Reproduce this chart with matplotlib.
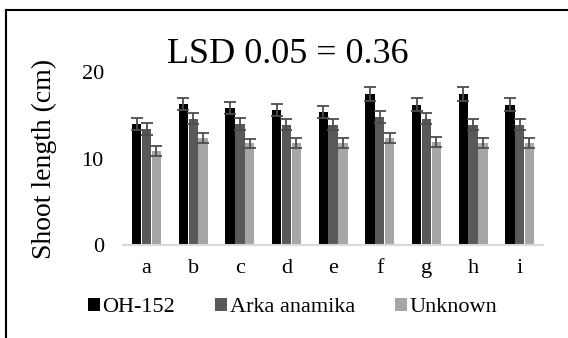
import numpy as np
import matplotlib
matplotlib.use('Agg')
import matplotlib.pyplot as plt
from matplotlib.lines import Line2D

plt.rcParams['font.family'] = ['Liberation Serif', 'DejaVu Serif']

cats = ['a', 'b', 'c', 'd', 'e', 'f', 'g', 'h', 'i']
series = ['OH-152', 'Arka anamika', 'Unknown']
oh152 = [14.0, 16.3, 15.8, 15.6, 15.4, 17.5, 16.2, 17.5, 16.2]
arka = [13.4, 14.6, 14.0, 13.9, 13.9, 14.8, 14.6, 13.9, 13.9]
unknown = [10.9, 12.4, 11.75, 11.8, 11.8, 12.4, 11.9, 11.8, 11.8]
err_oh = [0.7, 0.75, 0.7, 0.7, 0.7, 0.8, 0.75, 0.8, 0.75]
err_arka = [0.65, 0.65, 0.65, 0.65, 0.65, 0.7, 0.65, 0.65, 0.65]
err_unk = [0.6, 0.6, 0.55, 0.55, 0.55, 0.6, 0.6, 0.6, 0.6]
colors = ['#000000', '#595959', '#a6a6a6']

fig = plt.figure(figsize=(5.68, 3.38), dpi=100)
ax = fig.add_axes([0.217, 0.275, 0.739, 0.512])

x = np.arange(len(cats))
w = 0.2
vals = [oh152, arka, unknown]
errs = [err_oh, err_arka, err_unk]
for k in range(3):
	ax.bar(x + (k-1)*0.21, vals[k], w, color=colors[k], label=series[k],
		yerr=errs[k], error_kw=dict(ecolor='#4d4d4d', elinewidth=1.3, capsize=4.3, capthick=1.3))

ax.set_xlim(-0.5, len(cats)-0.5)
ax.set_ylim(0, 20)
ax.set_yticks([0, 10, 20])
ax.set_xticks(x)
ax.set_xticklabels(cats)
ax.tick_params(axis='both', length=0, labelsize=16)
ax.tick_params(axis='x', pad=10)
ax.tick_params(axis='y', pad=14)
for s in ['top', 'right', 'left']:
	ax.spines[s].set_visible(False)
ax.spines['bottom'].set_color('#d9d9d9')
ax.spines['bottom'].set_linewidth(1.5)
ax.set_ylabel('Shoot length (cm)', fontsize=20, labelpad=18)

fig.text(0.507, 0.838, 'LSD 0.05 = 0.36', ha='center', va='center', fontsize=26)

fig.legend(loc='center', bbox_to_anchor=(0.515, 0.09), ncol=3, frameon=False,
	fontsize=16, handlelength=0.55, handleheight=0.55, handletextpad=0.1, columnspacing=1.8)

# outer frame (cropped on right/bottom)
fig.add_artist(Line2D([6/568, 1.0], [1-9.5/338, 1-9.5/338], color='black', lw=1.5, transform=fig.transFigure))
fig.add_artist(Line2D([6/568, 6/568], [0, 1-9.5/338], color='black', lw=1.5, transform=fig.transFigure))

fig.savefig('out.png', dpi=100)
